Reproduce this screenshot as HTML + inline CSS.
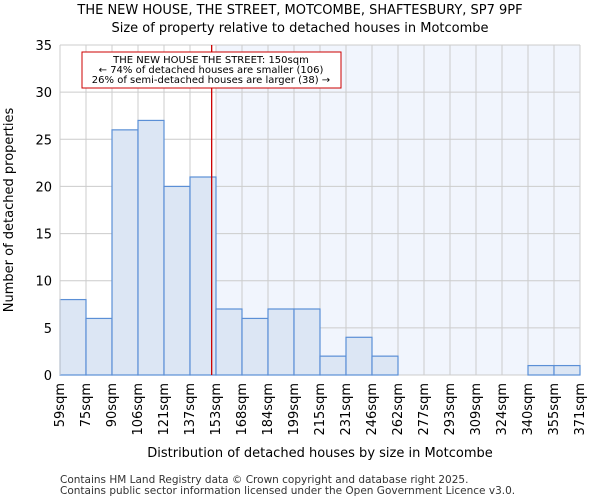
<!DOCTYPE html>
<html><head><meta charset="utf-8"><style>
body{margin:0;background:#fff;font-family:"DejaVu Sans","Liberation Sans",sans-serif}
</style></head><body>
<svg width="600" height="500" xmlns="http://www.w3.org/2000/svg" font-family="DejaVu Sans, Liberation Sans, sans-serif">
<g id="g"></g>
</svg>
<script>
const categories=["59sqm","75sqm","90sqm","106sqm","121sqm","137sqm","153sqm","168sqm","184sqm","199sqm","215sqm","231sqm","246sqm","262sqm","277sqm","293sqm","309sqm","324sqm","340sqm","355sqm","371sqm"];
const counts=[8,6,26,27,20,21,7,6,7,7,2,4,2,0,0,0,0,0,1,1];
const yTicks=[0,5,10,15,20,25,30,35];
const binStart=59, binWidth=15.6, markerValue=150;
const X0=60,X1=580,Y0=375,Y1=45,YMAX=35;
const bw=(X1-X0)/counts.length;
const xb=i=>X0+i*bw;
const xv=v=>X0+(v-binStart)/binWidth*bw;
const y=v=>Y0-(v/YMAX)*(Y0-Y1);
const g=document.getElementById('g');
const NS='http://www.w3.org/2000/svg';
function mk(t,a,txt){const e=document.createElementNS(NS,t);for(const k in a)e.setAttribute(k,a[k]);if(txt!=null)e.textContent=txt;g.appendChild(e);return e;}
// shaded region after marker bin
const shadeStart=xb(Math.ceil((markerValue-binStart)/binWidth));
let e=mk('rect',{x:shadeStart,y:Y1,width:X1-shadeStart,height:Y0-Y1,fill:'#f1f5fd'});


// grid
for(let i=0;i<=counts.length;i++){e=mk('line',{x1:xb(i),x2:xb(i),y1:Y1,y2:Y0,stroke:'#cccccc','stroke-width':1});

}
yTicks.forEach(t=>{e=mk('line',{x1:X0,x2:X1,y1:y(t),y2:y(t),stroke:'#cccccc','stroke-width':1});


e=mk('text',{x:X0-8,y:y(t)+5,'text-anchor':'end','font-size':13,fill:'#000'},t);

});
// bars
counts.forEach((c,i)=>{if(c<=0)return;e=mk('rect',{x:xb(i),y:y(c),width:bw,height:Y0-y(c),fill:'#dce6f4',stroke:'#5b8fd6','stroke-width':1.2});

});
// axes
e=mk('line',{x1:X0,x2:X0,y1:Y1,y2:Y0,stroke:'#ccc'});


// x tick labels
categories.forEach((c,i)=>{const tx=xb(i)+4;e=mk('text',{x:tx,y:Y0+8,'text-anchor':'end','font-size':13,transform:`rotate(-90 ${tx} ${Y0+8})`},c);

});
// marker
const mx=xv(markerValue);
e=mk('line',{x1:mx,x2:mx,y1:Y1,y2:Y0,stroke:'#cc0000','stroke-width':1.3});


e=mk('rect',{x:82,y:52,width:259,height:36,fill:'#fff',stroke:'#cc0000','stroke-width':1});


[["THE NEW HOUSE THE STREET: 150sqm",63],["← 74% of detached houses are smaller (106)",73],["26% of semi-detached houses are larger (38) →",83]].forEach(([t,yy])=>{e=mk('text',{x:211,y:yy,'text-anchor':'middle','font-size':10},t);

});
// titles
e=mk('text',{x:300,y:14,'text-anchor':'middle','font-size':13},"THE NEW HOUSE, THE STREET, MOTCOMBE, SHAFTESBURY, SP7 9PF");


e=mk('text',{x:300,y:32,'text-anchor':'middle','font-size':13},"Size of property relative to detached houses in Motcombe");


e=mk('text',{x:320,y:457,'text-anchor':'middle','font-size':13},"Distribution of detached houses by size in Motcombe");


e=mk('text',{x:13,y:210,'text-anchor':'middle','font-size':13,transform:'rotate(-90 13 210)'},"Number of detached properties");


e=mk('text',{x:60,y:483,'font-size':10.5,fill:'#333'},"Contains HM Land Registry data © Crown copyright and database right 2025.");


e=mk('text',{x:60,y:494,'font-size':10.5,fill:'#333'},"Contains public sector information licensed under the Open Government Licence v3.0.");


</script>
</body></html>
